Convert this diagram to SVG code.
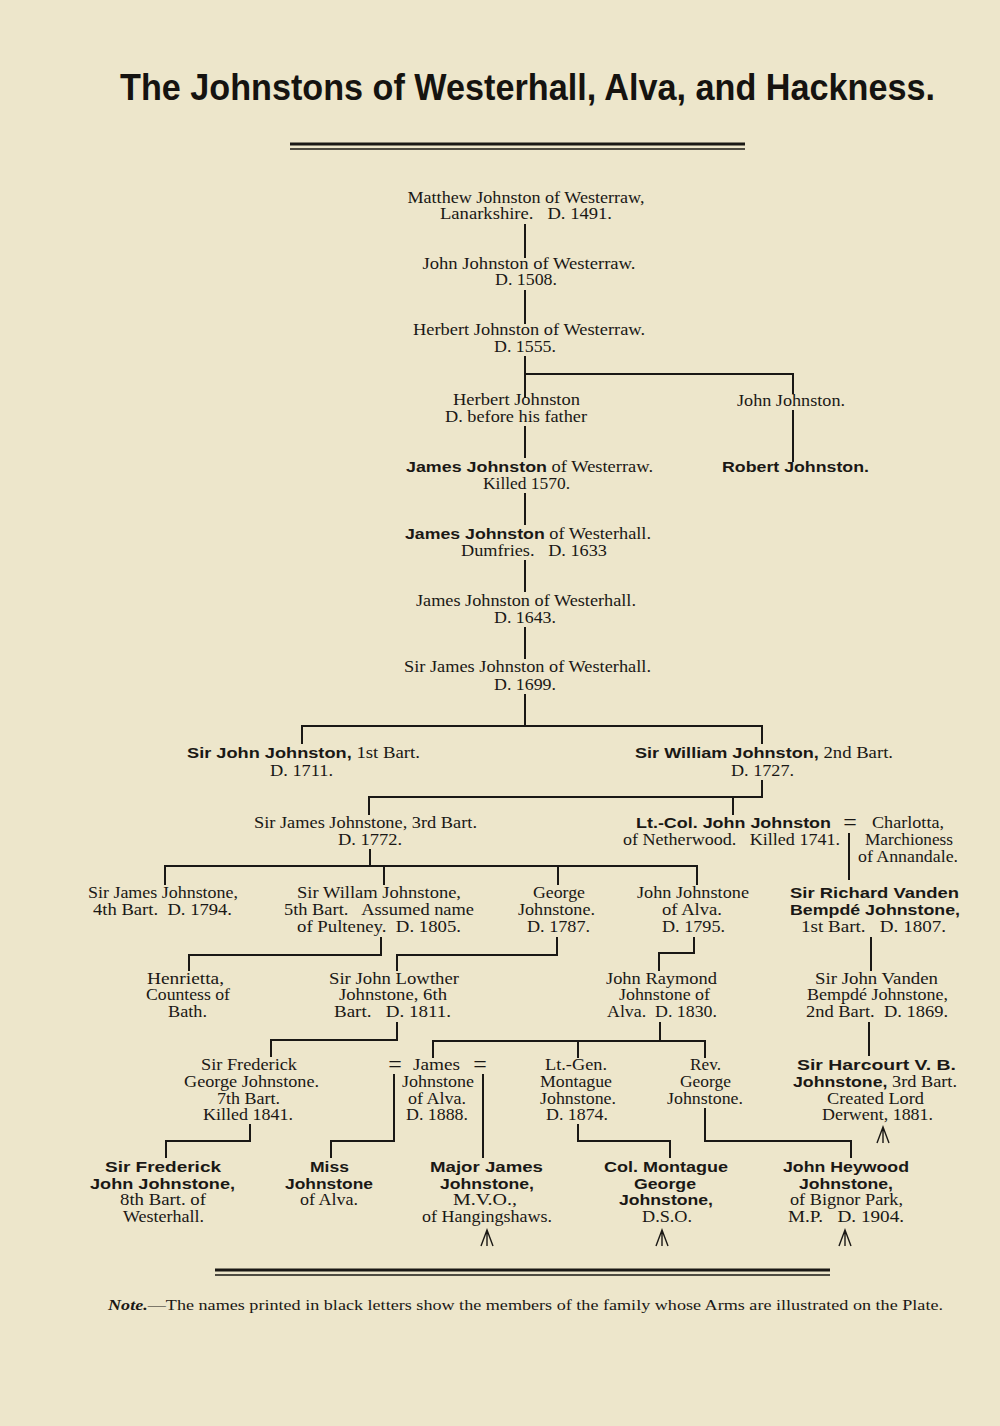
<svg xmlns="http://www.w3.org/2000/svg" xmlns:xlink="http://www.w3.org/1999/xlink" width="1000" height="1426" viewBox="0 0 1000 1426" xml:space="preserve">
<style>
text{white-space:pre}
.s{font-family:"Liberation Serif","Times New Roman",serif;font-size:16px;fill:#1a1815;text-anchor:middle}
.bt{font-family:"Liberation Sans",Arial,sans-serif;font-weight:bold;font-size:15.5px}
.b{font-family:"Liberation Sans",Arial,sans-serif;font-weight:bold;font-size:15.5px;fill:#1a1815;text-anchor:middle}
.eq{font-family:"Liberation Serif",serif;font-size:24px;fill:#1a1815;text-anchor:middle}
.title{font-family:"Liberation Sans",Arial,sans-serif;font-weight:bold;font-size:37px;fill:#151310;text-anchor:middle}
.note{font-family:"Liberation Serif",serif;font-size:15px;fill:#1a1815}
#links line{stroke:#1a1815;stroke-width:2}
.rule{stroke:#1a1815}
.arrow{fill:none;stroke:#1a1815;stroke-width:1.4}
</style>
<defs>
<path id="broad" class="arrow" d="M-6,16 L0,0 L6,16 M0,1 L0,16"/>
</defs>
<rect width="1000" height="1426" fill="#ede6cb"/>
<text class="title" x="527.5" y="100" textLength="815" lengthAdjust="spacingAndGlyphs">The Johnstons of Westerhall, Alva, and Hackness.</text>
<line class="rule" x1="290" y1="144" x2="745" y2="144" stroke-width="3"/>
<line class="rule" x1="290" y1="149" x2="745" y2="149" stroke-width="1.5"/>

<g id="links">
<line x1="525" y1="224" x2="525" y2="258"/>
<line x1="525" y1="290" x2="525" y2="324"/>
<line x1="525" y1="356" x2="525" y2="398"/>
<line x1="524" y1="374" x2="794" y2="374"/>
<line x1="793" y1="373" x2="793" y2="394"/>
<line x1="525" y1="426" x2="525" y2="458"/>
<line x1="793" y1="410" x2="793" y2="462"/>
<line x1="525" y1="493" x2="525" y2="525"/>
<line x1="525" y1="560" x2="525" y2="592"/>
<line x1="525" y1="627" x2="525" y2="659"/>
<line x1="525" y1="694" x2="525" y2="726"/>
<line x1="301" y1="726" x2="763" y2="726"/>
<line x1="302" y1="725" x2="302" y2="744"/>
<line x1="762" y1="725" x2="762" y2="744"/>
<line x1="762" y1="780" x2="762" y2="798"/>
<line x1="368" y1="797" x2="763" y2="797"/>
<line x1="369" y1="796" x2="369" y2="815"/>
<line x1="733" y1="797" x2="733" y2="815"/>
<line x1="370" y1="849" x2="370" y2="866"/>
<line x1="164" y1="866" x2="698" y2="866"/>
<line x1="165" y1="865" x2="165" y2="885"/>
<line x1="384" y1="865" x2="384" y2="885"/>
<line x1="558" y1="865" x2="558" y2="885"/>
<line x1="697" y1="865" x2="697" y2="885"/>
<line x1="849" y1="833" x2="849" y2="880"/>
<line x1="381" y1="937" x2="381" y2="955"/>
<line x1="188" y1="955" x2="382" y2="955"/>
<line x1="189" y1="954" x2="189" y2="971"/>
<line x1="557" y1="937" x2="557" y2="955"/>
<line x1="396" y1="955" x2="558" y2="955"/>
<line x1="397" y1="954" x2="397" y2="971"/>
<line x1="694" y1="937" x2="694" y2="954"/>
<line x1="658" y1="953" x2="695" y2="953"/>
<line x1="659" y1="952" x2="659" y2="971"/>
<line x1="871" y1="937" x2="871" y2="971"/>
<line x1="397" y1="1022" x2="397" y2="1041"/>
<line x1="270" y1="1040" x2="398" y2="1040"/>
<line x1="271" y1="1039" x2="271" y2="1057"/>
<line x1="660" y1="1022" x2="660" y2="1041"/>
<line x1="432" y1="1041" x2="706" y2="1041"/>
<line x1="433" y1="1040" x2="433" y2="1058"/>
<line x1="578" y1="1040" x2="578" y2="1058"/>
<line x1="705" y1="1040" x2="705" y2="1058"/>
<line x1="869" y1="1022" x2="869" y2="1056"/>
<line x1="394" y1="1074" x2="394" y2="1142"/>
<line x1="330" y1="1141" x2="395" y2="1141"/>
<line x1="331" y1="1140" x2="331" y2="1158"/>
<line x1="483" y1="1074" x2="483" y2="1158"/>
<line x1="250" y1="1124" x2="250" y2="1142"/>
<line x1="165" y1="1141" x2="251" y2="1141"/>
<line x1="166" y1="1140" x2="166" y2="1158"/>
<line x1="578" y1="1124" x2="578" y2="1142"/>
<line x1="577" y1="1141" x2="671" y2="1141"/>
<line x1="670" y1="1140" x2="670" y2="1158"/>
<line x1="705" y1="1108" x2="705" y2="1142"/>
<line x1="704" y1="1141" x2="852" y2="1141"/>
<line x1="851" y1="1140" x2="851" y2="1158"/>
</g>

<g id="n-matthew">
<text class="s" x="526" y="203" textLength="237" lengthAdjust="spacingAndGlyphs">Matthew Johnston of Westerraw,</text>
<text class="s" x="526" y="219" textLength="172" lengthAdjust="spacingAndGlyphs" xml:space="preserve">Lanarkshire.   D. 1491.</text>
</g>
<g id="n-john1508">
<text class="s" x="529" y="269" textLength="213" lengthAdjust="spacingAndGlyphs">John Johnston of Westerraw.</text>
<text class="s" x="526" y="285" textLength="62" lengthAdjust="spacingAndGlyphs">D. 1508.</text>
</g>
<g id="n-herbert1555">
<text class="s" x="529" y="335" textLength="232" lengthAdjust="spacingAndGlyphs">Herbert Johnston of Westerraw.</text>
<text class="s" x="525" y="352" textLength="62" lengthAdjust="spacingAndGlyphs">D. 1555.</text>
</g>
<g id="n-herbert-jr">
<text class="s" x="516.5" y="405" textLength="127" lengthAdjust="spacingAndGlyphs">Herbert Johnston</text>
<text class="s" x="516" y="422" textLength="142" lengthAdjust="spacingAndGlyphs">D. before his father</text>
</g>
<g id="n-john-johnston">
<text class="s" x="791" y="406" textLength="108" lengthAdjust="spacingAndGlyphs">John Johnston.</text>
</g>
<g id="n-robert">
<text class="b" x="795.5" y="472" textLength="147" lengthAdjust="spacingAndGlyphs">Robert Johnston.</text>
</g>
<g id="n-james1570">
<text class="s" x="529.5" y="472" textLength="247" lengthAdjust="spacingAndGlyphs"><tspan class="bt">James Johnston</tspan> of Westerraw.</text>
<text class="s" x="526.5" y="489" textLength="87" lengthAdjust="spacingAndGlyphs">Killed 1570.</text>
</g>
<g id="n-james1633">
<text class="s" x="528" y="539" textLength="246" lengthAdjust="spacingAndGlyphs"><tspan class="bt">James Johnston</tspan> of Westerhall.</text>
<text class="s" x="534" y="556" textLength="146" lengthAdjust="spacingAndGlyphs" xml:space="preserve">Dumfries.   D. 1633</text>
</g>
<g id="n-james1643">
<text class="s" x="526" y="606" textLength="220" lengthAdjust="spacingAndGlyphs">James Johnston of Westerhall.</text>
<text class="s" x="525" y="623" textLength="62" lengthAdjust="spacingAndGlyphs">D. 1643.</text>
</g>
<g id="n-sirjames1699">
<text class="s" x="527.5" y="672" textLength="247" lengthAdjust="spacingAndGlyphs">Sir James Johnston of Westerhall.</text>
<text class="s" x="525" y="690" textLength="62" lengthAdjust="spacingAndGlyphs">D. 1699.</text>
</g>
<g id="n-sirjohn1711">
<text class="s" x="303.5" y="758" textLength="233" lengthAdjust="spacingAndGlyphs"><tspan class="bt">Sir John Johnston,</tspan> 1st Bart.</text>
<text class="s" x="301.5" y="776" textLength="63" lengthAdjust="spacingAndGlyphs">D. 1711.</text>
</g>
<g id="n-sirwilliam1727">
<text class="s" x="764" y="758" textLength="258" lengthAdjust="spacingAndGlyphs"><tspan class="bt">Sir William Johnston,</tspan> 2nd Bart.</text>
<text class="s" x="762.5" y="776" textLength="63" lengthAdjust="spacingAndGlyphs">D. 1727.</text>
</g>
<g id="n-sirjames1772">
<text class="s" x="365.5" y="828" textLength="223" lengthAdjust="spacingAndGlyphs">Sir James Johnstone, 3rd Bart.</text>
<text class="s" x="370" y="845" textLength="64" lengthAdjust="spacingAndGlyphs">D. 1772.</text>
</g>
<g id="n-ltcol-john">
<text class="b" x="733.5" y="828" textLength="195" lengthAdjust="spacingAndGlyphs">Lt.-Col. John Johnston</text>
<text class="eq" x="850" y="830">=</text>
<text class="s" x="731.5" y="845" textLength="217" lengthAdjust="spacingAndGlyphs" xml:space="preserve">of Netherwood.   Killed 1741.</text>
</g>
<g id="n-charlotta">
<text class="s" x="908" y="828" textLength="72" lengthAdjust="spacingAndGlyphs">Charlotta,</text>
<text class="s" x="909" y="845" textLength="88" lengthAdjust="spacingAndGlyphs">Marchioness</text>
<text class="s" x="908" y="862" textLength="100" lengthAdjust="spacingAndGlyphs">of Annandale.</text>
</g>
<g id="n-sirjames1794">
<text class="s" x="163" y="898" textLength="150" lengthAdjust="spacingAndGlyphs">Sir James Johnstone,</text>
<text class="s" x="162.5" y="915" textLength="139" lengthAdjust="spacingAndGlyphs" xml:space="preserve">4th Bart.  D. 1794.</text>
</g>
<g id="n-sirwilliam1805">
<text class="s" x="379" y="898" textLength="164" lengthAdjust="spacingAndGlyphs">Sir Willam Johnstone,</text>
<text class="s" x="379" y="915" textLength="190" lengthAdjust="spacingAndGlyphs" xml:space="preserve">5th Bart.   Assumed name</text>
<text class="s" x="379" y="932" textLength="164" lengthAdjust="spacingAndGlyphs" xml:space="preserve">of Pulteney.  D. 1805.</text>
</g>
<g id="n-george1787">
<text class="s" x="559" y="898" textLength="52" lengthAdjust="spacingAndGlyphs">George</text>
<text class="s" x="556.5" y="915" textLength="77" lengthAdjust="spacingAndGlyphs">Johnstone.</text>
<text class="s" x="558.5" y="932" textLength="63" lengthAdjust="spacingAndGlyphs">D. 1787.</text>
</g>
<g id="n-john1795">
<text class="s" x="693" y="898" textLength="112" lengthAdjust="spacingAndGlyphs">John Johnstone</text>
<text class="s" x="692" y="915" textLength="60" lengthAdjust="spacingAndGlyphs">of Alva.</text>
<text class="s" x="693.5" y="932" textLength="63" lengthAdjust="spacingAndGlyphs">D. 1795.</text>
</g>
<g id="n-sirrichard1807">
<text class="b" x="874.5" y="898" textLength="169" lengthAdjust="spacingAndGlyphs">Sir Richard Vanden</text>
<text class="b" x="875" y="915" textLength="170" lengthAdjust="spacingAndGlyphs">Bempdé Johnstone,</text>
<text class="s" x="873.5" y="932" textLength="145" lengthAdjust="spacingAndGlyphs" xml:space="preserve">1st Bart.   D. 1807.</text>
</g>
<g id="n-henrietta">
<text class="s" x="185.5" y="984" textLength="77" lengthAdjust="spacingAndGlyphs">Henrietta,</text>
<text class="s" x="188" y="1000" textLength="84" lengthAdjust="spacingAndGlyphs">Countess of</text>
<text class="s" x="187.5" y="1017" textLength="39" lengthAdjust="spacingAndGlyphs">Bath.</text>
</g>
<g id="n-sirjohn1811">
<text class="s" x="394" y="984" textLength="130" lengthAdjust="spacingAndGlyphs">Sir John Lowther</text>
<text class="s" x="393" y="1000" textLength="108" lengthAdjust="spacingAndGlyphs">Johnstone, 6th</text>
<text class="s" x="392.5" y="1017" textLength="117" lengthAdjust="spacingAndGlyphs" xml:space="preserve">Bart.   D. 1811.</text>
</g>
<g id="n-johnraymond1830">
<text class="s" x="661.5" y="984" textLength="111" lengthAdjust="spacingAndGlyphs">John Raymond</text>
<text class="s" x="664.5" y="1000" textLength="91" lengthAdjust="spacingAndGlyphs">Johnstone of</text>
<text class="s" x="662" y="1017" textLength="110" lengthAdjust="spacingAndGlyphs" xml:space="preserve">Alva.  D. 1830.</text>
</g>
<g id="n-sirjohn1869">
<text class="s" x="876.5" y="984" textLength="123" lengthAdjust="spacingAndGlyphs">Sir John Vanden</text>
<text class="s" x="877.5" y="1000" textLength="141" lengthAdjust="spacingAndGlyphs">Bempdé Johnstone,</text>
<text class="s" x="877" y="1017" textLength="142" lengthAdjust="spacingAndGlyphs" xml:space="preserve">2nd Bart.  D. 1869.</text>
</g>
<g id="n-sirfrederick1841">
<text class="s" x="249" y="1070" textLength="96" lengthAdjust="spacingAndGlyphs">Sir Frederick</text>
<text class="s" x="251.5" y="1087" textLength="135" lengthAdjust="spacingAndGlyphs">George Johnstone.</text>
<text class="s" x="248.5" y="1104" textLength="63" lengthAdjust="spacingAndGlyphs">7th Bart.</text>
<text class="s" x="248" y="1120" textLength="90" lengthAdjust="spacingAndGlyphs">Killed 1841.</text>
</g>
<g id="n-james1888">
<text class="eq" x="395" y="1072">=</text>
<text class="s" x="436.5" y="1070" textLength="47" lengthAdjust="spacingAndGlyphs">James</text>
<text class="eq" x="480" y="1072">=</text>
<text class="s" x="438" y="1087" textLength="72" lengthAdjust="spacingAndGlyphs">Johnstone</text>
<text class="s" x="437" y="1104" textLength="58" lengthAdjust="spacingAndGlyphs">of Alva.</text>
<text class="s" x="437" y="1120" textLength="62" lengthAdjust="spacingAndGlyphs">D. 1888.</text>
</g>
<g id="n-montague1874">
<text class="s" x="576" y="1070" textLength="62" lengthAdjust="spacingAndGlyphs">Lt.-Gen.</text>
<text class="s" x="576" y="1087" textLength="72" lengthAdjust="spacingAndGlyphs">Montague</text>
<text class="s" x="578" y="1104" textLength="76" lengthAdjust="spacingAndGlyphs">Johnstone.</text>
<text class="s" x="577" y="1120" textLength="62" lengthAdjust="spacingAndGlyphs">D. 1874.</text>
</g>
<g id="n-revgeorge">
<text class="s" x="705.5" y="1070" textLength="31" lengthAdjust="spacingAndGlyphs">Rev.</text>
<text class="s" x="705.5" y="1087" textLength="51" lengthAdjust="spacingAndGlyphs">George</text>
<text class="s" x="705" y="1104" textLength="76" lengthAdjust="spacingAndGlyphs">Johnstone.</text>
</g>
<g id="n-sirharcourt">
<text class="b" x="876.5" y="1070" textLength="159" lengthAdjust="spacingAndGlyphs">Sir Harcourt V. B.</text>
<text class="s" x="875" y="1087" textLength="164" lengthAdjust="spacingAndGlyphs"><tspan class="bt">Johnstone,</tspan> 3rd Bart.</text>
<text class="s" x="875.5" y="1104" textLength="97" lengthAdjust="spacingAndGlyphs">Created Lord</text>
<text class="s" x="877.5" y="1120" textLength="111" lengthAdjust="spacingAndGlyphs">Derwent, 1881.</text>
<use xlink:href="#broad" href="#broad" x="883" y="1127"/>
</g>
<g id="n-sirfrederick8">
<text class="b" x="163" y="1172" textLength="116" lengthAdjust="spacingAndGlyphs">Sir Frederick</text>
<text class="b" x="162.5" y="1189" textLength="145" lengthAdjust="spacingAndGlyphs">John Johnstone,</text>
<text class="s" x="163" y="1205" textLength="86" lengthAdjust="spacingAndGlyphs">8th Bart. of</text>
<text class="s" x="163.5" y="1222" textLength="81" lengthAdjust="spacingAndGlyphs">Westerhall.</text>
</g>
<g id="n-missjohnstone">
<text class="b" x="329.5" y="1172" textLength="39" lengthAdjust="spacingAndGlyphs">Miss</text>
<text class="b" x="329" y="1189" textLength="88" lengthAdjust="spacingAndGlyphs">Johnstone</text>
<text class="s" x="329" y="1205" textLength="58" lengthAdjust="spacingAndGlyphs">of Alva.</text>
</g>
<g id="n-majorjames">
<text class="b" x="486.5" y="1172" textLength="113" lengthAdjust="spacingAndGlyphs">Major James</text>
<text class="b" x="487" y="1189" textLength="94" lengthAdjust="spacingAndGlyphs">Johnstone,</text>
<text class="s" x="485" y="1205" textLength="64" lengthAdjust="spacingAndGlyphs">M.V.O.,</text>
<text class="s" x="487" y="1222" textLength="130" lengthAdjust="spacingAndGlyphs">of Hangingshaws.</text>
<use xlink:href="#broad" href="#broad" x="487" y="1230"/>
</g>
<g id="n-colmontague">
<text class="b" x="666" y="1172" textLength="124" lengthAdjust="spacingAndGlyphs">Col. Montague</text>
<text class="b" x="665" y="1189" textLength="62" lengthAdjust="spacingAndGlyphs">George</text>
<text class="b" x="666" y="1205" textLength="94" lengthAdjust="spacingAndGlyphs">Johnstone,</text>
<text class="s" x="667" y="1222" textLength="50" lengthAdjust="spacingAndGlyphs">D.S.O.</text>
<use xlink:href="#broad" href="#broad" x="662" y="1230"/>
</g>
<g id="n-johnheywood">
<text class="b" x="846" y="1172" textLength="126" lengthAdjust="spacingAndGlyphs">John Heywood</text>
<text class="b" x="846" y="1189" textLength="94" lengthAdjust="spacingAndGlyphs">Johnstone,</text>
<text class="s" x="846.5" y="1205" textLength="113" lengthAdjust="spacingAndGlyphs">of Bignor Park,</text>
<text class="s" x="846" y="1222" textLength="116" lengthAdjust="spacingAndGlyphs" xml:space="preserve">M.P.   D. 1904.</text>
<use xlink:href="#broad" href="#broad" x="845" y="1230"/>
</g>

<line class="rule" x1="215" y1="1270" x2="830" y2="1270" stroke-width="3"/>
<line class="rule" x1="215" y1="1275" x2="830" y2="1275" stroke-width="1.5"/>
<text class="note" x="108" y="1310" textLength="835" lengthAdjust="spacingAndGlyphs"><tspan font-style="italic" font-weight="bold">Note.</tspan>—The names printed in black letters show the members of the family whose Arms are illustrated on the Plate.</text>
</svg>
